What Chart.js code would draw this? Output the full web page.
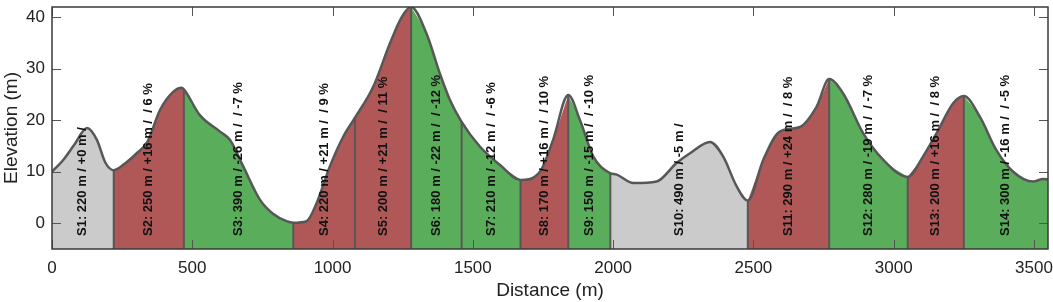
<!DOCTYPE html>
<html>
<head>
<meta charset="utf-8">
<script src="https://cdn.jsdelivr.net/npm/chart.js@4/dist/chart.umd.min.js"></script>
<style>
  html, body { margin: 0; padding: 0; background: #fff; }
  #wrap { width: 1053px; height: 302px; }
</style>
</head>
<body>
<div id="wrap"><canvas id="profile"></canvas></div>
<script>
// elevation profile
const distance = [0, 40, 80, 125, 160, 190, 220, 260, 300, 340, 385, 432, 462, 470, 527, 599, 634, 682, 741, 789, 836, 860,
  907, 943, 990, 1038, 1080, 1145, 1205, 1246, 1280, 1335, 1383, 1418, 1460, 1525, 1597, 1670, 1739, 1786, 1840,
  1882, 1929, 1990, 2010, 2072, 2155, 2226, 2274, 2345, 2392, 2440, 2480, 2535, 2594, 2666, 2725, 2770, 2820, 2891,
  2963, 3050, 3105, 3153, 3212, 3250, 3307, 3366, 3426, 3497, 3533, 3550];
const elevation = [10, 12.3, 15.3, 18.5, 16.2, 11.8, 10.3, 11.6, 13.5, 15.8, 22, 25.5, 26.3, 26, 21, 17.8, 16.2, 11, 4.6, 1.8, 0.4, 0.1,
  0.4, 3.9, 11, 16.8, 20.5, 26.5, 35, 40, 42, 36.8, 29, 24, 19.7, 14.9, 11.3, 8.4, 10, 16.2, 24.9,
  20, 13, 9.7, 9.5, 7.8, 8.1, 11.7, 13.6, 15.8, 13, 7.2, 4.4, 12.3, 17.8, 18.7, 22.6, 28, 25.2, 17.5,
  12.3, 9, 13, 17.5, 23.3, 24.7, 20.7, 14.2, 10, 8.1, 8.6, 8.5];

// segments
const bounds = [0, 220, 470, 860, 1080, 1280, 1460, 1670, 1840, 1990, 2480, 2770, 3050, 3250, 3550];
const segLength = [220, 250, 390, 220, 200, 180, 210, 170, 150, 490, 290, 280, 200, 300];
const segGain = [0, 16, -26, 21, 21, -22, -12, 16, -15, -5, 24, -19, 16, -16];
const segGrade = [null, 6, -7, 9, 11, -12, -6, 10, -10, null, 8, -7, 8, -5];
const segKind = ['flat', 'up', 'down', 'up', 'up', 'down', 'down', 'up', 'down', 'flat', 'up', 'down', 'up', 'down'];

const xTicks = [0, 500, 1000, 1500, 2000, 2500, 3000, 3500];
const yTicks = [0, 10, 20, 30, 40];

const kindColor = { flat: '#cbcbcb', up: '#b05858', down: '#5aad5a' };
const lineColor = '#575757';
const FONT = '"Liberation Sans", Arial, Helvetica, sans-serif';

function pts(from, to) {
  const out = [];
  for (let i = 0; i < distance.length; i++) {
    if (distance[i] >= from && distance[i] <= to) out.push({ x: distance[i], y: elevation[i] });
  }
  return out;
}

const datasets = [];
// outline on top
datasets.push({
  data: pts(0, 3550), borderColor: lineColor, borderWidth: 2.5, fill: false,
  pointRadius: 0, cubicInterpolationMode: 'monotone', order: 0
});
// separators
for (let i = 1; i < bounds.length - 1; i++) {
  const b = bounds[i];
  const e = elevation[distance.indexOf(b)];
  datasets.push({
    data: [{ x: b, y: -5 }, { x: b, y: e }], borderColor: lineColor, borderWidth: 2,
    fill: false, pointRadius: 0, order: 1
  });
}
// coloured fills
for (let i = 0; i < segLength.length; i++) {
  datasets.push({
    data: pts(bounds[i], bounds[i + 1]), borderWidth: 0, borderColor: 'rgba(0,0,0,0)',
    backgroundColor: kindColor[segKind[i]], fill: 'start', pointRadius: 0,
    cubicInterpolationMode: 'monotone', order: 2
  });
}

function segLabel(i) {
  const g = segGain[i] >= 0 ? '+' + segGain[i] : '' + segGain[i];
  let s = 'S' + (i + 1) + ': ' + segLength[i] + ' m / ' + g + ' m /';
  if (segGrade[i] !== null) s += '  / ' + segGrade[i] + ' %';
  return s;
}

const decor = {
  id: 'decor',
  afterDatasetsDraw(chart) {
    const { ctx, chartArea: a, scales: { x, y } } = chart;
    ctx.save();
    // segment captions
    ctx.fillStyle = '#111';
    ctx.font = 'bold 13px ' + FONT;
    ctx.textAlign = 'left';
    ctx.textBaseline = 'middle';
    for (let i = 0; i < segLength.length; i++) {
      const px = x.getPixelForValue((bounds[i] + bounds[i + 1]) / 2);
      ctx.save();
      ctx.translate(px, a.bottom - 13);
      ctx.rotate(-Math.PI / 2);
      ctx.fillText(segLabel(i), 0, 0);
      ctx.restore();
    }
    // inward ticks
    ctx.strokeStyle = '#555';
    ctx.lineWidth = 1;
    ctx.beginPath();
    xTicks.forEach(v => {
      const px = Math.round(x.getPixelForValue(v)) + 0.5;
      ctx.moveTo(px, a.bottom); ctx.lineTo(px, a.bottom - 9);
      ctx.moveTo(px, a.top); ctx.lineTo(px, a.top + 9);
    });
    yTicks.forEach(v => {
      const py = Math.round(y.getPixelForValue(v)) + 0.5;
      ctx.moveTo(a.left, py); ctx.lineTo(a.left + 9, py);
      ctx.moveTo(a.right, py); ctx.lineTo(a.right - 9, py);
    });
    ctx.stroke();
    // box
    ctx.strokeStyle = '#3a3a3a';
    ctx.lineWidth = 1.5;
    ctx.strokeRect(a.left, a.top, a.right - a.left, a.bottom - a.top);
    ctx.restore();
  }
};

new Chart(document.getElementById('profile'), {
  type: 'line',
  data: { datasets },
  options: {
    responsive: true,
    maintainAspectRatio: false,
    animation: false,
    layout: { padding: { top: 7, right: 5, left: 0, bottom: 0 } },
    plugins: { legend: { display: false }, tooltip: { enabled: false } },
    scales: {
      x: {
        type: 'linear', min: 0, max: 3550,
        grid: { display: false, drawTicks: false },
        border: { display: false },
        ticks: { padding: 9, color: '#222', font: { family: FONT, size: 17 }, maxRotation: 0, autoSkip: false,
          callback: v => String(v) },
        afterBuildTicks(s) { s.ticks = xTicks.map(v => ({ value: v })); },
        title: { display: true, text: 'Distance (m)', color: '#222', font: { family: FONT, size: 19 }, padding: { top: 0, bottom: 0 } },
        afterFit(s) { s.height = 53; s.paddingLeft = 0; s.paddingRight = 0; }
      },
      y: {
        min: -5, max: 42,
        grid: { display: false, drawTicks: false },
        border: { display: false },
        ticks: { padding: 7, color: '#222', font: { family: FONT, size: 17 }, autoSkip: false,
          callback: v => String(v) },
        afterBuildTicks(s) { s.ticks = yTicks.map(v => ({ value: v })); },
        title: { display: true, text: 'Elevation (m)', color: '#222', font: { family: FONT, size: 19 }, padding: 0 },
        afterFit(s) { s.width = 52; s.paddingTop = 0; s.paddingBottom = 0; }
      }
    }
  },
  plugins: [decor]
});
</script>
</body>
</html>
